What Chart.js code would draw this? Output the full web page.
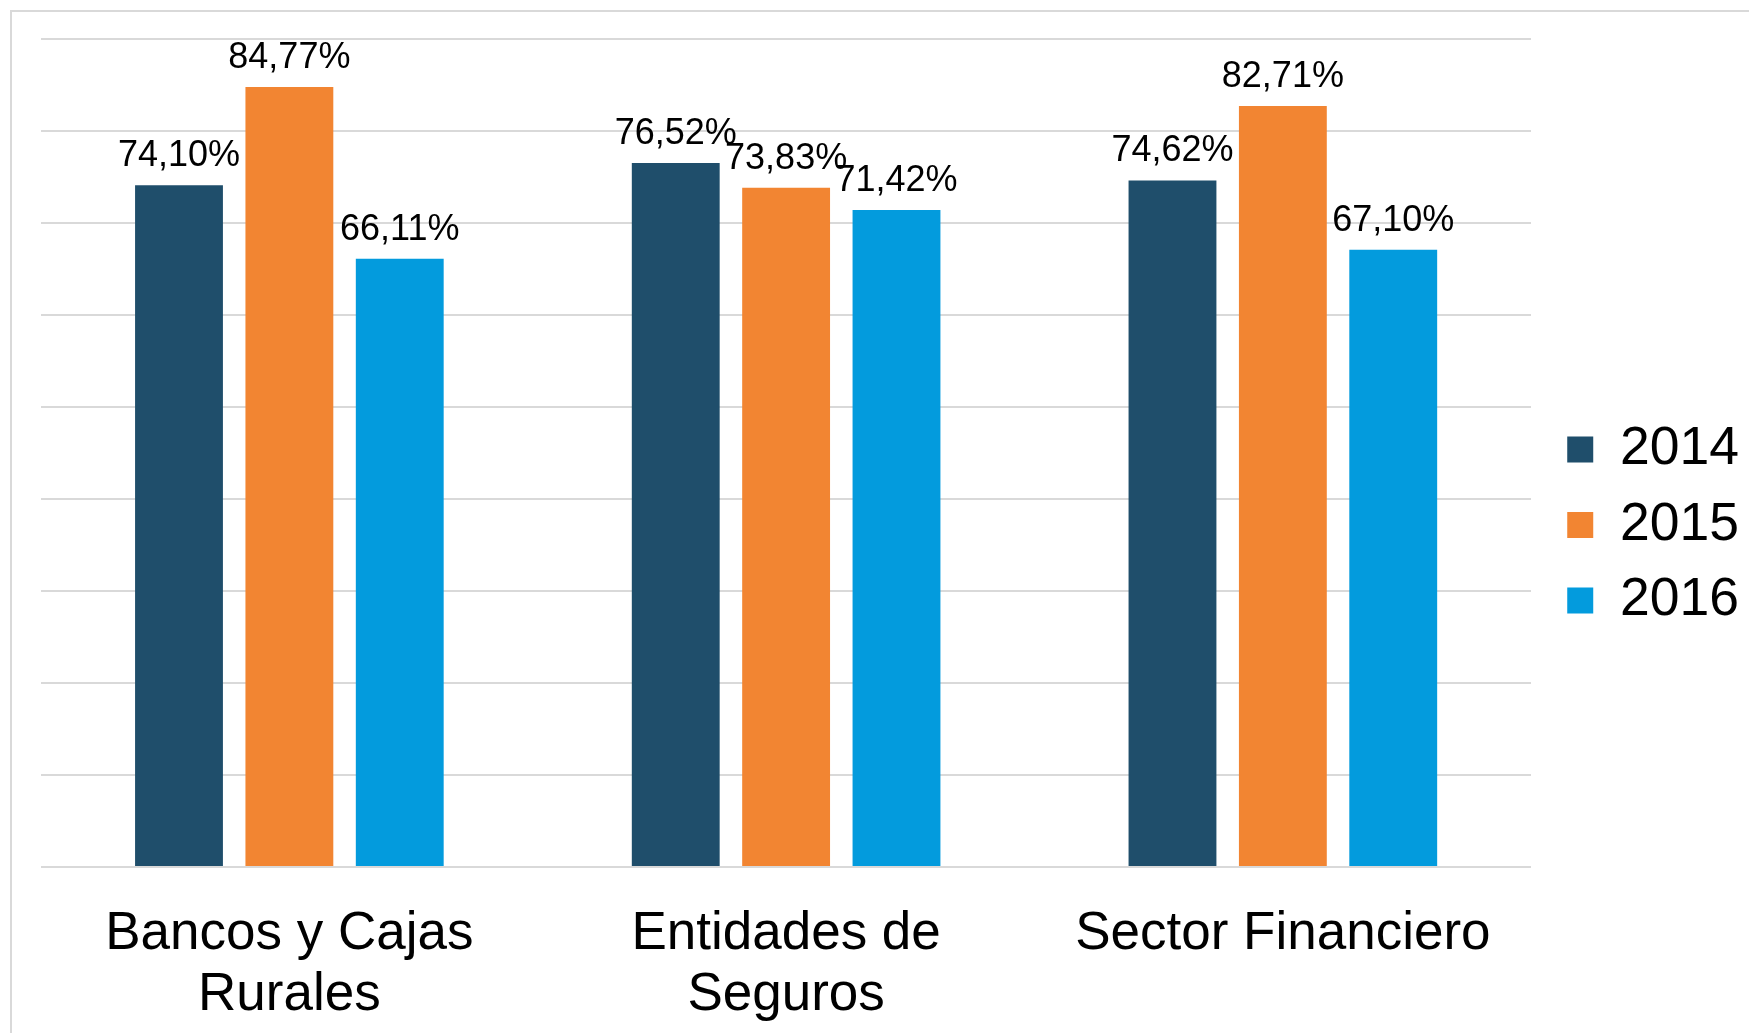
<!DOCTYPE html>
<html>
<head>
<meta charset="utf-8">
<script src="https://cdn.jsdelivr.net/npm/chart.js@4.4.1/dist/chart.umd.min.js"></script>
<style>
  html, body { margin: 0; padding: 0; background: #ffffff; overflow: hidden; }
  #frame { position: absolute; left: 10px; top: 10px; width: 1800px; height: 1100px;
           border-left: 2px solid #d9d9d9; border-top: 2px solid #d9d9d9; z-index: 0; }
  #wrap { position: absolute; left: 0; top: 0; width: 1749px; height: 1033px; z-index: 1; }
</style>
</head>
<body>
<div id="frame"></div>
<div id="wrap"><canvas id="c"></canvas></div>
<script>
const categories = [["Bancos y Cajas", "Rurales"], ["Entidades de", "Seguros"], "Sector Financiero"];
const seriesNames = ["2014", "2015", "2016"];
const values2014 = [74.10, 76.52, 74.62];
const values2015 = [84.77, 73.83, 82.71];
const values2016 = [66.11, 71.42, 67.10];
const seriesColors = ["#1f4e6b", "#f28532", "#039bdd"];
const yTicks = [0, 10, 20, 30, 40, 50, 60, 70, 80, 90];

const FONT = "'Liberation Sans', Arial, sans-serif";

const valueLabels = {
  id: 'valueLabels',
  afterDatasetsDraw(chart) {
    const ctx = chart.ctx;
    ctx.save();
    ctx.font = "36px " + FONT;
    ctx.fillStyle = "#000000";
    ctx.textAlign = "center";
    ctx.textBaseline = "alphabetic";
    chart.data.datasets.forEach((ds, di) => {
      const meta = chart.getDatasetMeta(di);
      meta.data.forEach((el, i) => {
        const txt = ds.data[i].toFixed(2).replace('.', ',') + '%';
        ctx.fillText(txt, el.x, el.y - 19);
      });
    });
    ctx.restore();
  }
};

// nudge the legend block up a little so it sits where the reference has it
const legendNudge = {
  id: 'legendNudge',
  afterLayout(chart) {
    if (chart.legend) {
      chart.legend.top -= 11;
      chart.legend.bottom -= 11;
    }
  }
};

const allSeries = [values2014, values2015, values2016];

new Chart(document.getElementById('c'), {
  type: 'bar',
  data: {
    labels: categories,
    datasets: seriesNames.map((name, i) => ({
      label: name,
      data: allSeries[i],
      backgroundColor: seriesColors[i],
      borderWidth: 0,
      categoryPercentage: 0.6666,
      barPercentage: 0.796
    }))
  },
  options: {
    responsive: true,
    maintainAspectRatio: false,
    animation: false,
    devicePixelRatio: 1,
    layout: { padding: { top: 39, left: 41, right: 0, bottom: 0 } },
    plugins: {
      legend: {
        position: 'right',
        labels: {
          font: { family: FONT, size: 53.5 },
          color: '#000000',
          boxWidth: 26,
          boxHeight: 26,
          padding: 22
        }
      },
      tooltip: { enabled: false }
    },
    scales: {
      x: {
        grid: { display: false },
        border: { display: false },
        ticks: {
          font: { family: FONT, size: 53, lineHeight: 1.151 },
          color: '#000000',
          padding: 29,
          maxRotation: 0,
          autoSkip: false
        },
        afterFit: (s) => { s.height = 166; }
      },
      y: {
        position: 'right',
        min: 0,
        max: 90,
        afterBuildTicks: (s) => { s.ticks = yTicks.map(v => ({ value: v })); },
        ticks: { display: false },
        grid: { color: '#d9d9d9', lineWidth: 2, drawTicks: false },
        border: { display: false },
        afterFit: (s) => { s.width = 14; }
      }
    }
  },
  plugins: [valueLabels, legendNudge]
});
</script>
</body>
</html>
